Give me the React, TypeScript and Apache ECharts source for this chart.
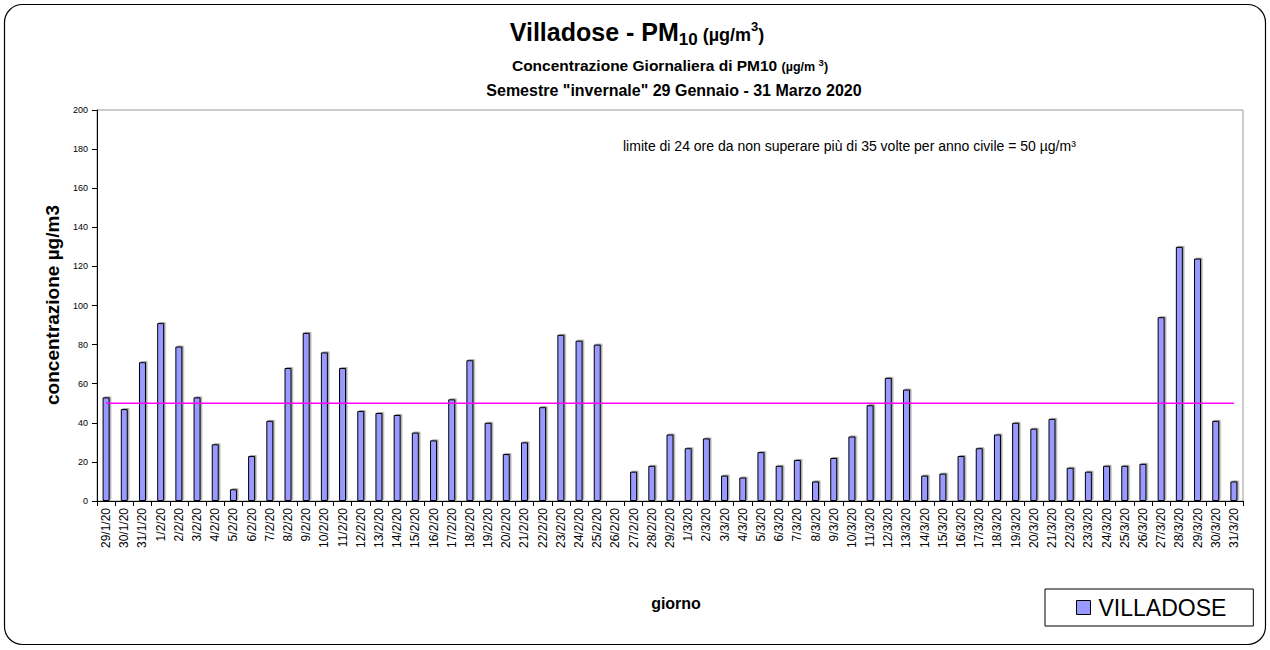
import React, { useEffect, useRef } from "react";
import * as echarts from "echarts";

const FONT = '"Liberation Sans", Arial, Helvetica, sans-serif';

const categories = [
  "29/1/20", "30/1/20", "31/1/20",
  "1/2/20", "2/2/20", "3/2/20", "4/2/20", "5/2/20", "6/2/20", "7/2/20", "8/2/20", "9/2/20", "10/2/20",
  "11/2/20", "12/2/20", "13/2/20", "14/2/20", "15/2/20", "16/2/20", "17/2/20", "18/2/20", "19/2/20", "20/2/20",
  "21/2/20", "22/2/20", "23/2/20", "24/2/20", "25/2/20", "26/2/20", "27/2/20", "28/2/20", "29/2/20",
  "1/3/20", "2/3/20", "3/3/20", "4/3/20", "5/3/20", "6/3/20", "7/3/20", "8/3/20", "9/3/20", "10/3/20",
  "11/3/20", "12/3/20", "13/3/20", "14/3/20", "15/3/20", "16/3/20", "17/3/20", "18/3/20", "19/3/20", "20/3/20",
  "21/3/20", "22/3/20", "23/3/20", "24/3/20", "25/3/20", "26/3/20", "27/3/20", "28/3/20", "29/3/20", "30/3/20", "31/3/20",
];

const villadose: (number | null)[] = [
  53, 47, 71,
  91, 79, 53, 29, 6, 23, 41, 68, 86, 76,
  68, 46, 45, 44, 35, 31, 52, 72, 40, 24,
  30, 48, 85, 82, 80, null, 15, 18, 34,
  27, 32, 13, 12, 25, 18, 21, 10, 22, 33,
  49, 63, 57, 13, 14, 23, 27, 34, 40, 37,
  42, 17, 15, 18, 18, 19, 94, 130, 124, 41, 10,
];

const LIMIT = 50;
const yTicks = { min: 0, max: 200, interval: 20 };

const seriesName = "VILLADOSE";
const titleMain = "Villadose - PM";
const subTitle1 = "Concentrazione Giornaliera di PM10";
const subTitle2 = 'Semestre "invernale" 29 Gennaio - 31 Marzo 2020';
const noteText = "limite di 24 ore da non superare più di 35 volte per anno civile = 50 µg/m³";
const yName = "concentrazione µg/m3";
const xName = "giorno";

type Seg = { t: string; size: number; dy: number; weight?: string };

function measure(ctx: CanvasRenderingContext2D, text: string, size: number, weight: string) {
  ctx.font = `${weight} ${size}px ${FONT}`;
  return ctx.measureText(text).width;
}

function richLine(ctx: CanvasRenderingContext2D, segs: Seg[], cx: number, baseline: number) {
  const widths = segs.map((s) => measure(ctx, s.t, s.size, s.weight || "bold"));
  const total = widths.reduce((a, b) => a + b, 0);
  let x = cx - total / 2;
  const out: any[] = [];
  segs.forEach((s, i) => {
    out.push({
      type: "text",
      x,
      y: baseline + s.dy - 0.35 * s.size,
      silent: true,
      style: {
        text: s.t,
        fill: "#000",
        fontSize: s.size,
        fontWeight: s.weight || "bold",
        fontFamily: FONT,
        align: "left",
        textAlign: "left",
        verticalAlign: "middle",
        textVerticalAlign: "middle",
      },
    });
    x += widths[i];
  });
  return out;
}

export default function App() {
  const ref = useRef<HTMLDivElement>(null);

  useEffect(() => {
    if (!ref.current) return;
    const chart = echarts.init(ref.current, null, { renderer: "svg" });
    const canvas = document.createElement("canvas");
    const ctx = canvas.getContext("2d") as CanvasRenderingContext2D;

    const titleEls = [
      ...richLine(
        ctx,
        [
          { t: titleMain, size: 25, dy: 0 },
          { t: "10", size: 17, dy: 4 },
          { t: " (µg/m", size: 18, dy: 0 },
          { t: "3", size: 13, dy: -10 },
          { t: ")", size: 18, dy: 0 },
        ],
        637,
        41
      ),
      ...richLine(
        ctx,
        [
          { t: subTitle1 + " ", size: 15.5, dy: 0 },
          { t: "(µg/m ", size: 12.5, dy: 0 },
          { t: "3", size: 9.5, dy: -5 },
          { t: ")", size: 12.5, dy: 0 },
        ],
        670,
        71
      ),
      ...richLine(ctx, [{ t: subTitle2, size: 16, dy: 0 }], 674, 96),
    ];

    const option: any = {
      animation: false,
      backgroundColor: "#fff",
      textStyle: { fontFamily: FONT },
      grid: {
        left: 97,
        right: 27,
        top: 110,
        bottom: 149,
        show: true,
        borderColor: "#999",
        borderWidth: 1,
        backgroundColor: "transparent",
        containLabel: false,
      },
      legend: {
        data: [seriesName],
        left: 1045,
        top: 589,
        orient: "horizontal",
        icon: "rect",
        itemWidth: 14,
        itemHeight: 14,
        padding: [7, 27, 7, 31],
        borderColor: "#000",
        borderWidth: 1,
        backgroundColor: "#fff",
        textStyle: { fontSize: 23, color: "#000", fontFamily: FONT, padding: [0, 0, 0, 3] },
        itemStyle: {
          color: "#9999FF",
          borderColor: "#000",
          borderWidth: 1,
          shadowBlur: 0,
          shadowColor: "transparent",
          shadowOffsetX: 0,
          shadowOffsetY: 0,
        },
      },
      xAxis: {
        type: "category",
        data: categories,
        boundaryGap: true,
        axisLine: { show: true, lineStyle: { color: "#000", width: 1 } },
        axisTick: { show: true, length: 5, lineStyle: { color: "#000" } },
        axisLabel: {
          interval: 0,
          rotate: 90,
          fontSize: 12,
          color: "#000",
          fontFamily: FONT,
          margin: 7,
        },
        splitLine: { show: false },
      },
      yAxis: {
        type: "value",
        min: yTicks.min,
        max: yTicks.max,
        interval: yTicks.interval,
        axisLine: { show: true, lineStyle: { color: "#000", width: 1 } },
        axisTick: { show: true, length: 5, lineStyle: { color: "#000" } },
        axisLabel: { fontSize: 9, color: "#000", fontFamily: FONT, margin: 9 },
        splitLine: { show: false },
      },
      series: [
        {
          name: seriesName,
          type: "bar",
          data: villadose,
          barWidth: 7,
          itemStyle: {
            color: "#9999FF",
            borderColor: "#000",
            borderWidth: 1,
            shadowColor: "rgba(0,0,0,0.35)",
            shadowBlur: 1,
            shadowOffsetX: 1.5,
            shadowOffsetY: -1,
          },
        },
        {
          name: "limite",
          type: "line",
          data: categories.map(() => LIMIT),
          symbol: "none",
          silent: true,
          lineStyle: { color: "#FF00FF", width: 1.5 },
          z: 3,
        },
      ],
      graphic: [
        {
          type: "rect",
          shape: { x: 4.5, y: 4.5, width: 1261, height: 640, r: 18 },
          style: { fill: "none", stroke: "#000", lineWidth: 1.2 },
          silent: true,
          z: -10,
        },
        ...titleEls,
        {
          type: "text",
          x: 623,
          y: 146,
          silent: true,
          style: {
            text: noteText,
            fill: "#000",
            fontSize: 14,
            fontFamily: FONT,
            align: "left",
            textAlign: "left",
            verticalAlign: "middle",
            textVerticalAlign: "middle",
          },
        },
        {
          type: "text",
          x: 52,
          y: 305,
          rotation: Math.PI / 2,
          silent: true,
          style: {
            text: yName,
            fill: "#000",
            fontSize: 19,
            fontWeight: "bold",
            fontFamily: FONT,
            align: "center",
            textAlign: "center",
            verticalAlign: "middle",
            textVerticalAlign: "middle",
          },
        },
        {
          type: "text",
          x: 676,
          y: 603,
          silent: true,
          style: {
            text: xName,
            fill: "#000",
            fontSize: 16,
            fontWeight: "bold",
            fontFamily: FONT,
            align: "center",
            textAlign: "center",
            verticalAlign: "middle",
            textVerticalAlign: "middle",
          },
        },
      ],
    };

    chart.setOption(option);
    return () => chart.dispose();
  }, []);

  return (
    <div
      ref={ref}
      style={{ position: "fixed", left: 0, top: 0, width: 1270, height: 650 }}
    />
  );
}
